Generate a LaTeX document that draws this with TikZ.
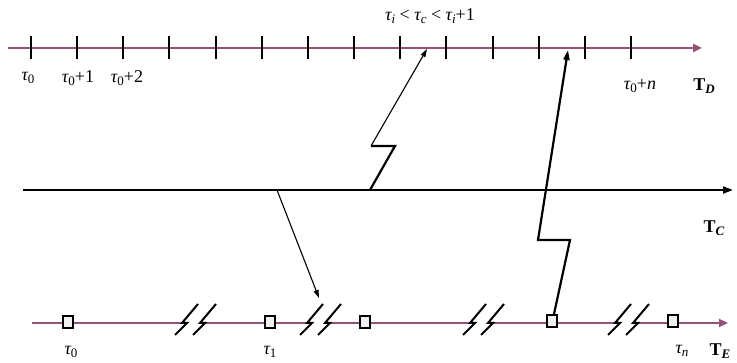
\documentclass[tikz,border=0pt]{standalone}
\usepackage{fontspec}
\setmainfont{Liberation Serif}
\usetikzlibrary{arrows.meta}
\definecolor{axis}{RGB}{150,82,118}
\newcommand\tsb[1]{\textit{τ}\kern-0.03em\raisebox{-0.4ex}{\fontsize{13}{13}\selectfont #1}}
\newcommand\bigT[1]{\textbf{T}\raisebox{-0.4ex}{\fontsize{13}{13}\selectfont\textbf{\textit{#1}}}}
\tikzset{
  axisline/.style={draw=axis, line width=2.8pt},
  axisarrow/.style={axisline, -{Triangle[length=9pt,width=8pt,fill=axis]}},
  tick/.style={draw=black, line width=2pt},
  mainline/.style={draw=black, line width=2pt, -{Triangle[length=10pt,width=7pt]}},
  thinarrow/.style={draw=black, line width=1.1pt, -{Triangle[length=8pt,width=5pt]}},
  boldline/.style={draw=black, line width=2.2pt},
  boldarrow/.style={draw=black, line width=2.2pt, -{Triangle[length=10pt,width=6pt]}},
  brkstyle/.style={draw=black, line width=2pt},
  sq/.style={draw=black, line width=2pt, fill=gray!12, minimum width=10pt, minimum height=12pt, inner sep=0pt},
  lbl/.style={font=\fontsize{18}{18}\selectfont, inner sep=0pt},
  brk/.pic={\draw[brkstyle] (0,12) -- (12,0) -- (7,0) -- (23,-19) (18,12) -- (30,0) -- (25,0) -- (41,-19);}
}
\begin{document}
\begin{tikzpicture}[x=1pt,y=-1pt]
\useasboundingbox (0,0) rectangle (737,363);
% top axis T_D
\coordinate (d0) at (8,48);
\coordinate (d1) at (702,48);
\draw[axisarrow] (d0) -- (d1);
\foreach \x in {31,77,123,169,216,262,308,354,400,446,493,539,585,631} {
  \draw[tick] (\x,36) -- (\x,59);
}
\node[lbl] (ltau0) at (28,78) {\tsb{0}};
\node[lbl] (ltau1) at (78,78) {\tsb{0}+1};
\node[lbl] (ltau2) at (127,78) {\tsb{0}+2};
\node[lbl] (ltaun) at (640,86) {\tsb{0}+\textit{n}};
\node[lbl] (lTD) at (704,86) {\bigT{D}};
\node[lbl] (lcond) at (430,16) {\tsb{\textit{i}} < \tsb{\textit{c}} < \tsb{\textit{i}}+1};
% middle axis T_C
\coordinate (c0) at (23,190);
\coordinate (c1) at (733,190);
\draw[mainline] (c0) -- (c1);
\node[lbl] (lTC) at (714,228) {\bigT{C}};
% bottom axis T_E
\draw[axisline] (32,323) -- (182,323);
\draw[axisline] (205,323) -- (307,323);
\draw[axisline] (330,323) -- (470,323);
\draw[axisline] (493,323) -- (615,323);
\draw[axisarrow] (638,323) -- (728,323);
\pic at (175,323) {brk};
\pic at (300,323) {brk};
\pic at (463,323) {brk};
\pic at (608,323) {brk};
\node[sq] (s0) at (68,322) {};
\node[sq] (s1) at (270,322) {};
\node[sq] (s2) at (365,322) {};
\node[sq] (s3) at (552,321) {};
\node[sq] (s4) at (673,321) {};
\node[lbl] (le0) at (71,352) {\tsb{0}};
\node[lbl] (le1) at (270,352) {\tsb{1}};
\node[lbl] (len) at (682,351) {\tsb{\textit{n}}};
\node[lbl] (lTE) at (720,351) {\bigT{E}};
% connector 1: T_C to T_D (lightning)
\coordinate (a0) at (370,190);
\coordinate (a1) at (395,146);
\coordinate (a2) at (371,146);
\coordinate (a3) at (427,49);
\draw[boldline, line join=miter] (a0) -- (a1) -- (a2);
\draw[thinarrow] (a2) -- (a3);
% connector 2: T_C to T_E
\coordinate (b0) at (277,190);
\coordinate (b1) at (319,298);
\draw[thinarrow] (b0) -- (b1);
% connector 3: T_E to T_D (lightning)
\coordinate (e1) at (570,240);
\coordinate (e2) at (538,240);
\coordinate (e3) at (568,50);
\draw[boldarrow, line join=miter] ([xshift=2pt]s3.north) -- (e1) -- (e2) -- (e3);
\end{tikzpicture}
\end{document}
